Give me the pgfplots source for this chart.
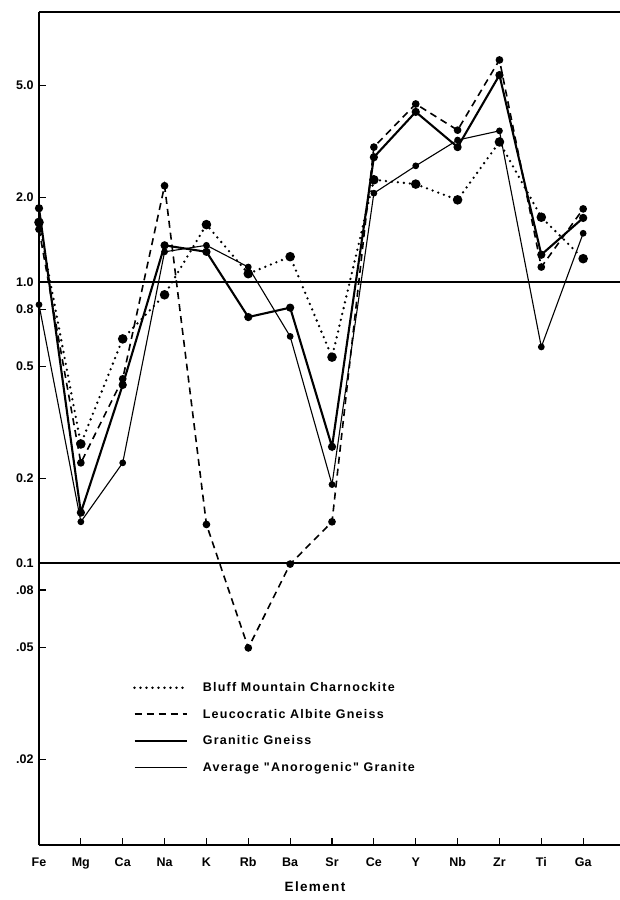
\documentclass[border=0pt]{standalone}
\usepackage{fontspec}
\setmainfont{Liberation Sans}
\newfontfamily\legfont[LetterSpace=10]{Liberation Sans}
\usepackage{pgfplots}
\pgfplotsset{compat=1.18}
\begin{document}
\begin{tikzpicture}
\begin{axis}[
  name=ax,
  scale only axis, width=581bp, height=833bp,
  xmin=0, xmax=13.88,
  ymode=log, ymin=0.0099, ymax=9.14,
  axis x line*=box, axis y line*=left,
  axis line style={line width=1.6bp, black},
  xtick={0,1,2,3,4,5,6,7,8,9,10,11,12,13},
  xticklabels={Fe,Mg,Ca,Na,K,Rb,Ba,Sr,Ce,Y,Nb,Zr,Ti,Ga},
  ytick={0.02,0.05,0.08,0.1,0.2,0.5,0.8,1,2,5},
  yticklabels={.02,.05,.08,0.1,0.2,0.5,0.8,1.0,2.0,5.0},
  xtick pos=bottom, ytick pos=left, tick align=inside,
  major tick length=7bp, tick style={line width=1.2bp, black},
  yminorticks=false, xminorticks=false,
  clip=false,
  /pgf/number format/assume math mode=true,
  ticklabel style={font=\bfseries\fontsize{12.5bp}{14bp}\selectfont},
  xticklabel style={yshift=-9bp},
  yticklabel style={xshift=-2bp},
  legend style={at={(axis description cs:0.1618,0.141)}, anchor=west,
    draw=none, fill=none, inner sep=0pt,
    font=\legfont\bfseries\fontsize{12.5bp}{14bp}\selectfont,
    row sep=10bp, nodes={inner sep=3bp},
    /tikz/every odd column/.append style={column sep=12bp}},
  legend cell align=left,
  legend image code/.code={\draw[#1] (0bp,0bp) -- (52bp,0bp);},
]
\addplot[line width=1.4bp, black, forget plot] coordinates {(0,1) (13.88,1)};
\addplot[line width=1.8bp, black, forget plot] coordinates {(0,0.1) (13.88,0.1)};

% Bluff Mountain Charnockite (dotted)
\addplot[black, line width=2.6bp, line cap=round, dash pattern=on 0bp off 6bp,
  mark=*, mark size=3.4bp, mark options={solid, fill=black}] coordinates {
 (0,1.63) (1,0.265) (2,0.627) (3,0.90) (4,1.60) (5,1.07) (6,1.23)
 (7,0.54) (8,2.31) (9,2.23) (10,1.96) (11,3.15) (12,1.70) (13,1.21)};
\addlegendentry{Bluff Mountain Charnockite}

% Leucocratic Albite Gneiss (dashed)
\addplot[black, line width=1.6bp, dash pattern=on 7bp off 5bp,
  mark=*, mark size=3bp, mark options={solid, fill=black}] coordinates {
 (0,1.54) (1,0.227) (2,0.452) (3,2.2) (4,0.137) (5,0.0498) (6,0.099)
 (7,0.14) (8,3.02) (9,4.3) (10,3.47) (11,6.17) (12,1.13) (13,1.82)};
\addlegendentry{Leucocratic Albite Gneiss}

% Granitic Gneiss (thick solid)
\addplot[black, line width=2.1bp,
  mark=*, mark size=3bp, mark options={solid, fill=black}] coordinates {
 (0,1.83) (1,0.151) (2,0.43) (3,1.35) (4,1.28) (5,0.75) (6,0.81)
 (7,0.259) (8,2.78) (9,4.03) (10,3.02) (11,5.45) (12,1.25) (13,1.69)};
\addlegendentry{Granitic Gneiss}

% Average "Anorogenic" Granite (thin solid)
\addplot[black, line width=1.1bp,
  mark=*, mark size=2.8bp, mark options={solid, fill=black}] coordinates {
 (0,0.83) (1,0.14) (2,0.227) (3,1.28) (4,1.35) (5,1.13) (6,0.64)
 (7,0.19) (8,2.07) (9,2.59) (10,3.2) (11,3.45) (12,0.587) (13,1.49)};
\addlegendentry{Average "Anorogenic" Granite}

\node[font=\legfont\bfseries\fontsize{13.5bp}{15bp}\selectfont] at ([yshift=-42bp]axis description cs:0.475,0) {Element};
\end{axis}
\pgfresetboundingbox
\path ([xshift=-39bp,yshift=-55bp]ax.south west) rectangle ([yshift=12bp]ax.north east);
\end{tikzpicture}
\end{document}
